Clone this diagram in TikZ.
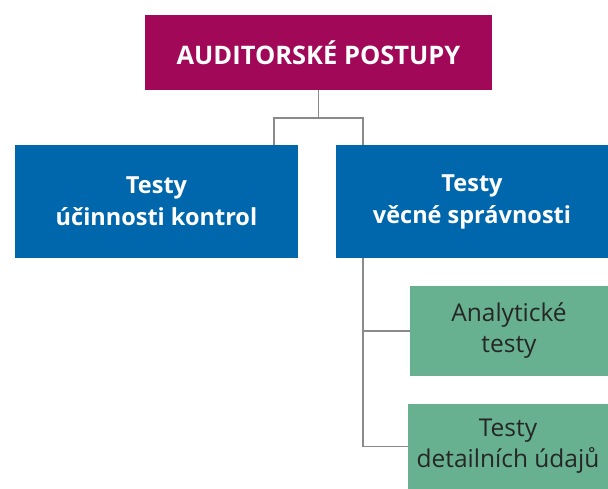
\documentclass[tikz,border=0pt]{standalone}
\usepackage{fontspec}
\setmainfont{Open Sans}
\definecolor{headcol}{HTML}{A10858}
\definecolor{groupcol}{HTML}{0067AC}
\definecolor{testcol}{HTML}{67B190}
\definecolor{linkcol}{HTML}{8A8A8A}
\begin{document}
\begin{tikzpicture} [
  x=1pt, y=-1pt,
  box node/.style= {rectangle,inner sep=0,align=center},
  head node/.style= {box node,fill=headcol,text=white,font=\fontsize{25.5}{31}\selectfont\bfseries,minimum width=347,minimum height=75},
  group node/.style= {box node,fill=groupcol,text=white,font=\fontsize{23.5}{32}\selectfont\bfseries,minimum height=113},
  test node/.style= {box node,fill=testcol,text=black!85,font=\fontsize{24.5}{31}\selectfont},
  link/.style= {draw=linkcol,line width=1.3pt},
]
\useasboundingbox (0,0) rectangle (608,489);
\node (top) [head node] at (318.5,52.5) {AUDITORSKÉ POSTUPY};
\node (left) [group node,minimum width=283] at (156.5,201.5) {Testy\\účinnosti kontrol};
\node (right) [group node,minimum width=272] at (472,201.5) {Testy\\věcné správnosti};
\node (A1) [test node,minimum width=198,minimum height=90] at (509,331) {Analytické\\testy};
\node (A2) [test node,minimum width=200,minimum height=85] at (508,446.5) {Testy\\detailních údajů};

\coordinate (jl) at (274,118);
\coordinate (jr) at (363,118);
\draw [link] (top.south) -- (top.south |- jl);
\draw [link] (jl |- left.north) -- (jl) -- (jr) -- (jr |- right.north);
\draw [link] (jr |- right.south) |- (A2.west);
\draw [link] (jr |- A1.west) -- (A1.west);

\end{tikzpicture}
\end{document}
